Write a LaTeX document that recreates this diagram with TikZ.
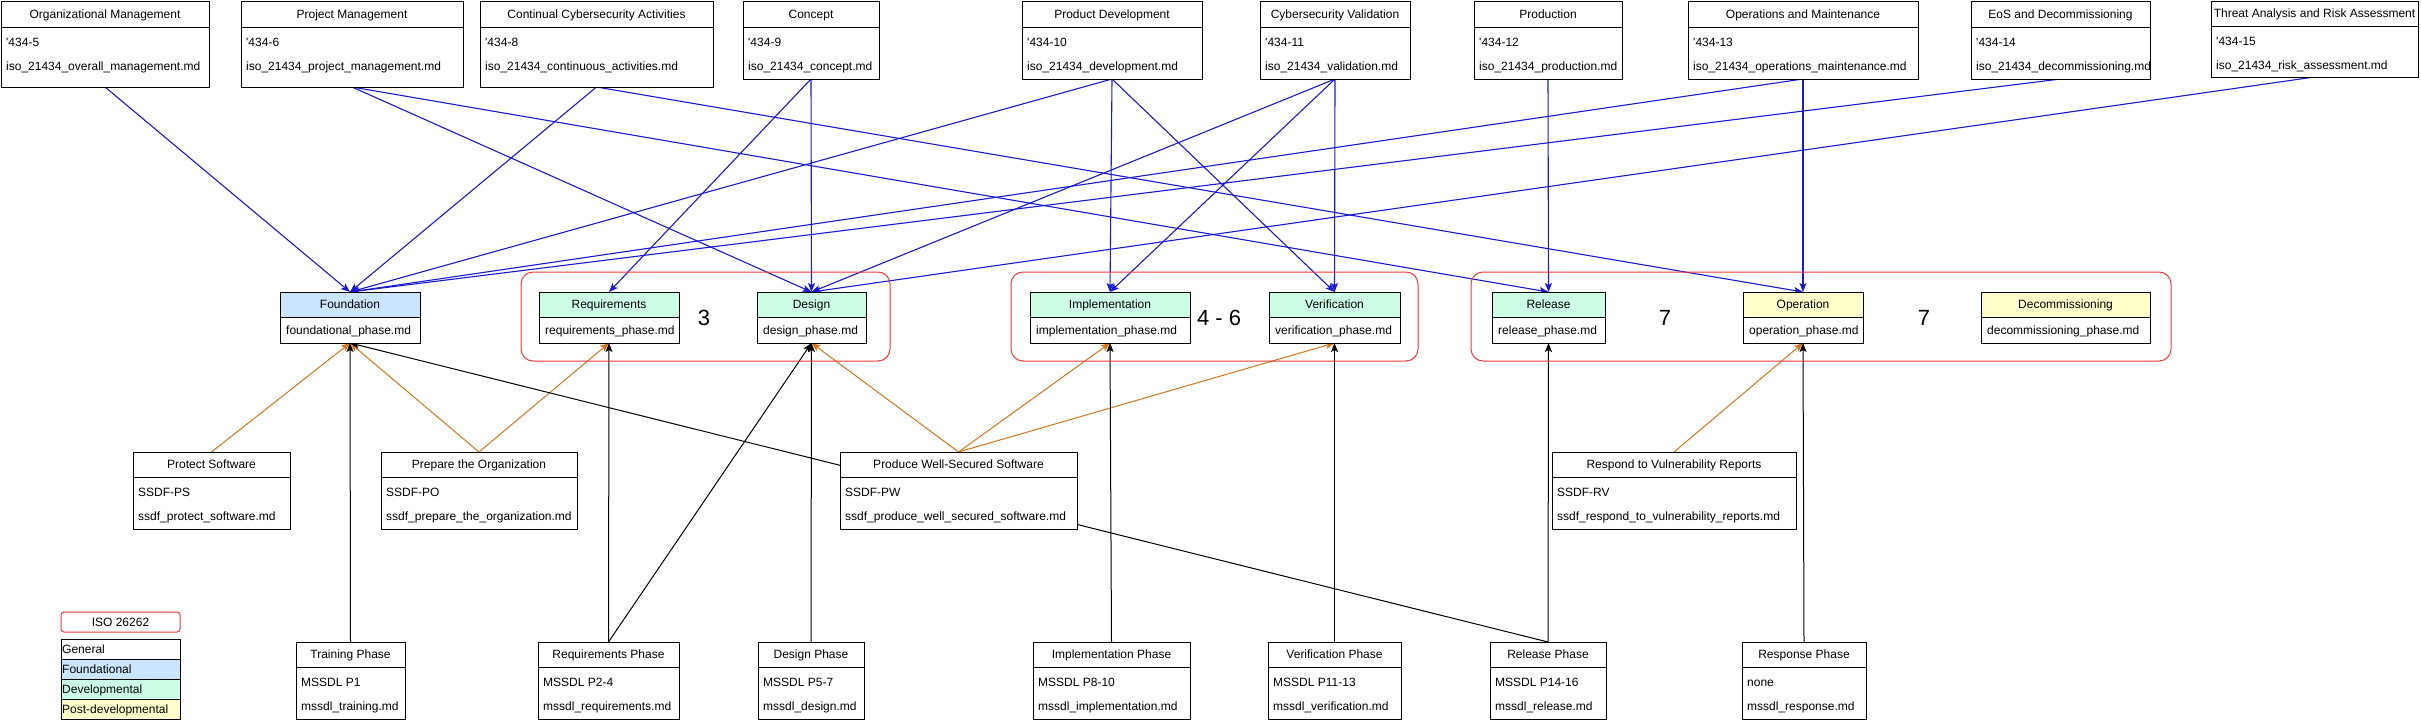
\documentclass[tikz,border=0pt]{standalone}
\usepackage{fontspec}
\setmainfont{Liberation Sans}
\usetikzlibrary{arrows.meta,fit}
\pgfdeclarelayer{bg}
\pgfdeclarelayer{edges}
\pgfsetlayers{bg,edges,main}
\definecolor{fblue}{HTML}{CCE5FF}
\definecolor{fgreen}{HTML}{CCFFE6}
\definecolor{fyellow}{HTML}{FFFFCC}
\definecolor{eblue}{RGB}{25,25,210}
\definecolor{eorange}{RGB}{214,118,28}
\definecolor{gred}{RGB}{238,58,58}
\tikzset{
  boxline/.style={draw=black, line width=1pt, inner sep=0pt, outer sep=0pt, fill=white},
  txt/.style={inner sep=0pt, font=\fontsize{12}{14}\selectfont},
  bigtxt/.style={inner sep=0pt, font=\fontsize{22}{26}\selectfont},
  tipsty/.style={-{Stealth[length=9pt,width=7pt,inset=2pt]}},
  blueedge/.style={draw=eblue, line width=1.1pt, tipsty},
  orangeedge/.style={draw=eorange, line width=1pt, tipsty},
  blackedge/.style={draw=black, line width=1pt, tipsty},
  grp/.style={draw=gred, line width=1pt, rounded corners=12pt},
}
% name x1 y1 x2 y2 yh title line1 line2
\newcommand\boxthree[9]{%
  \node[boxline, fit={(#2,#3) (#4,#5)}] (#1) {};
  \draw[line width=1pt] (#2,#6) -- (#4,#6);
  \node[txt, anchor=base] at ({(#2+#4)/2},{(#3+#6)/2+4.3}) {#7};
  \node[txt, anchor=base west] at ({#2+5},{#6+15+4.3}) {#8};
  \node[txt, anchor=base west] at ({#2+5},{#6+39.5+4.3}) {#9};
}
% name x1 x2 title color body
\newcommand\phasebox[6]{%
  \node[boxline, fit={(#2,292) (#3,343)}] (#1) {};
  \fill[#5] (#2,292) rectangle (#3,317);
  \draw[line width=1pt] (#2,292) rectangle (#3,343) (#2,317) -- (#3,317);
  \node[txt, anchor=base] at ({(#2+#3)/2},{304.5+4.3}) {#4};
  \node[txt, anchor=base west] at ({#2+6},{330+4.3}) {#6};
}
\begin{document}
\begin{tikzpicture}[x=1pt,y=-1pt]
\begin{pgfonlayer}{bg}
\fill[white] (0,0) rectangle (2421,723);
\end{pgfonlayer}
\useasboundingbox (0,0) rectangle (2421,723);

% top row (ISO 21434)
\boxthree{org}{1}{1}{209}{87}{27}{Organizational Management}{\textquotesingle 434-5}{iso\_21434\_overall\_management.md}
\boxthree{pm}{241}{1}{463}{87}{27}{Project Management}{\textquotesingle 434-6}{iso\_21434\_project\_management.md}
\boxthree{cc}{480}{1}{713}{87}{27}{Continual Cybersecurity Activities}{\textquotesingle 434-8}{iso\_21434\_continuous\_activities.md}
\boxthree{concept}{743}{1}{879}{79}{27}{Concept}{\textquotesingle 434-9}{iso\_21434\_concept.md}
\boxthree{pd}{1022}{1}{1202}{79}{27}{Product Development}{\textquotesingle 434-10}{iso\_21434\_development.md}
\boxthree{cv}{1260}{1}{1410}{79}{27}{Cybersecurity Validation}{\textquotesingle 434-11}{iso\_21434\_validation.md}
\boxthree{prod}{1474}{1}{1622}{79}{27}{Production}{\textquotesingle 434-12}{iso\_21434\_production.md}
\boxthree{om}{1688}{1}{1918}{79}{27}{Operations and Maintenance}{\textquotesingle 434-13}{iso\_21434\_operations\_maintenance.md}
\boxthree{eos}{1971}{1}{2150}{79}{27}{EoS and Decommissioning}{\textquotesingle 434-14}{iso\_21434\_decommissioning.md}
\boxthree{tara}{2211}{1}{2418}{77}{26}{Threat Analysis and Risk Assessment}{\textquotesingle 434-15}{iso\_21434\_risk\_assessment.md}

% ISO 26262 groups
\draw[grp] (521,272) rectangle (890,361);
\draw[grp] (1011,272) rectangle (1418,361);
\draw[grp] (1471,272) rectangle (2171,361);
\node[bigtxt] (l3) at (704,318) {3};
\node[bigtxt] (l46) at (1219,318) {4 - 6};
\node[bigtxt] (l7a) at (1665,318) {7};
\node[bigtxt] (l7b) at (1924,318) {7};

% phase boxes
\phasebox{found}{280}{420}{Foundation}{fblue}{foundational\_phase.md}
\phasebox{req}{539}{679}{Requirements}{fgreen}{requirements\_phase.md}
\phasebox{design}{757}{866}{Design}{fgreen}{design\_phase.md}
\phasebox{impl}{1030}{1190}{Implementation}{fgreen}{implementation\_phase.md}
\phasebox{verif}{1269}{1400}{Verification}{fgreen}{verification\_phase.md}
\phasebox{rel}{1492}{1605}{Release}{fgreen}{release\_phase.md}
\phasebox{oper}{1743}{1863}{Operation}{fyellow}{operation\_phase.md}
\phasebox{decom}{1981}{2150}{Decommissioning}{fyellow}{decommissioning\_phase.md}

% SSDF
\boxthree{ps}{133}{452}{290}{529}{477}{Protect Software}{SSDF-PS}{ssdf\_protect\_software.md}
\boxthree{po}{381}{452}{577}{529}{477}{Prepare the Organization}{SSDF-PO}{ssdf\_prepare\_the\_organization.md}
\boxthree{pw}{840}{452}{1077}{529}{477}{Produce Well-Secured Software}{SSDF-PW}{ssdf\_produce\_well\_secured\_software.md}
\boxthree{rv}{1552}{452}{1796}{529}{477}{Respond to Vulnerability Reports}{SSDF-RV}{ssdf\_respond\_to\_vulnerability\_reports.md}

% MSSDL
\boxthree{trph}{296}{642}{405}{719}{667}{Training Phase}{MSSDL P1}{mssdl\_training.md}
\boxthree{rqph}{538}{642}{679}{719}{667}{Requirements Phase}{MSSDL P2-4}{mssdl\_requirements.md}
\boxthree{dsph}{758}{642}{864}{719}{667}{Design Phase}{MSSDL P5-7}{mssdl\_design.md}
\boxthree{imph}{1033}{642}{1190}{719}{667}{Implementation Phase}{MSSDL P8-10}{mssdl\_implementation.md}
\boxthree{vfph}{1268}{642}{1401}{719}{667}{Verification Phase}{MSSDL P11-13}{mssdl\_verification.md}
\boxthree{rlph}{1490}{642}{1606}{719}{667}{Release Phase}{MSSDL P14-16}{mssdl\_release.md}
\boxthree{rsph}{1742}{642}{1866}{719}{667}{Response Phase}{none}{mssdl\_response.md}

% legend
\node[draw=gred, line width=1pt, rounded corners=3pt, inner sep=0pt, fit={(61,612) (180,632)}] (leg) {};
\node[txt, anchor=base] at (120.5,{622+4.3}) {ISO 26262};
\node[boxline, fit={(61,639) (180,659)}] (lgen) {};
\node[boxline, fill=fblue, fit={(61,659) (180,679)}] (lfou) {};
\node[boxline, fill=fgreen, fit={(61,679) (180,699)}] (ldev) {};
\node[boxline, fill=fyellow, fit={(61,699) (180,719)}] (lpost) {};
\node[txt, anchor=base west] at (62,{649+4.3}) {General};
\node[txt, anchor=base west] at (62,{669+4.3}) {Foundational};
\node[txt, anchor=base west] at (62,{689+4.3}) {Developmental};
\node[txt, anchor=base west] at (62,{709+4.3}) {Post-developmental};

\begin{pgfonlayer}{edges}
% ISO 21434 -> phases
\draw[blueedge] (org.south) -- (found.north);
\draw[blueedge] (cc.south) -- (found.north);
\draw[blueedge] (pd.south) -- (found.north);
\draw[blueedge] (om.south) -- (found.north);
\draw[blueedge] (eos.south) -- (found.north);
\draw[blueedge] (concept.south) -- (req.north);
\draw[blueedge] (pm.south) -- (design.north);
\draw[blueedge] (concept.south) -- (design.north);
\draw[blueedge] (cv.south) -- (design.north);
\draw[blueedge] (tara.south) -- (design.north);
\draw[blueedge] (pd.south) -- (impl.north);
\draw[blueedge] (cv.south) -- (impl.north);
\draw[blueedge] (pd.south) -- (verif.north);
\draw[blueedge] (cv.south) -- (verif.north);
\draw[blueedge] (pm.south) -- (rel.north);
\draw[blueedge] (prod.south) -- (rel.north);
\draw[blueedge] (cc.south) -- (oper.north);
\draw[blueedge] (om.south) -- (oper.north);
% SSDF -> phases
\draw[orangeedge] (ps.north) -- (found.south);
\draw[orangeedge] (po.north) -- (found.south);
\draw[orangeedge] (po.north) -- (req.south);
\draw[orangeedge] (pw.north) -- (design.south);
\draw[orangeedge] (pw.north) -- (impl.south);
\draw[orangeedge] (pw.north) -- (verif.south);
\draw[orangeedge] (rv.north) -- (oper.south);
% MSSDL -> phases
\draw[blackedge] (trph.north) -- (found.south);
\draw[blackedge] (rqph.north) -- (req.south);
\draw[blackedge] (rqph.north) -- (design.south);
\draw[blackedge] (dsph.north) -- (design.south);
\draw[blackedge] (imph.north) -- (impl.south);
\draw[blackedge] (vfph.north) -- (verif.south);
\draw[blackedge] (rlph.north) -- (rel.south);
\draw[blackedge] (rlph.north) -- (found.south);
\draw[blackedge] (rsph.north) -- (oper.south);
\end{pgfonlayer}
\end{tikzpicture}
\end{document}
